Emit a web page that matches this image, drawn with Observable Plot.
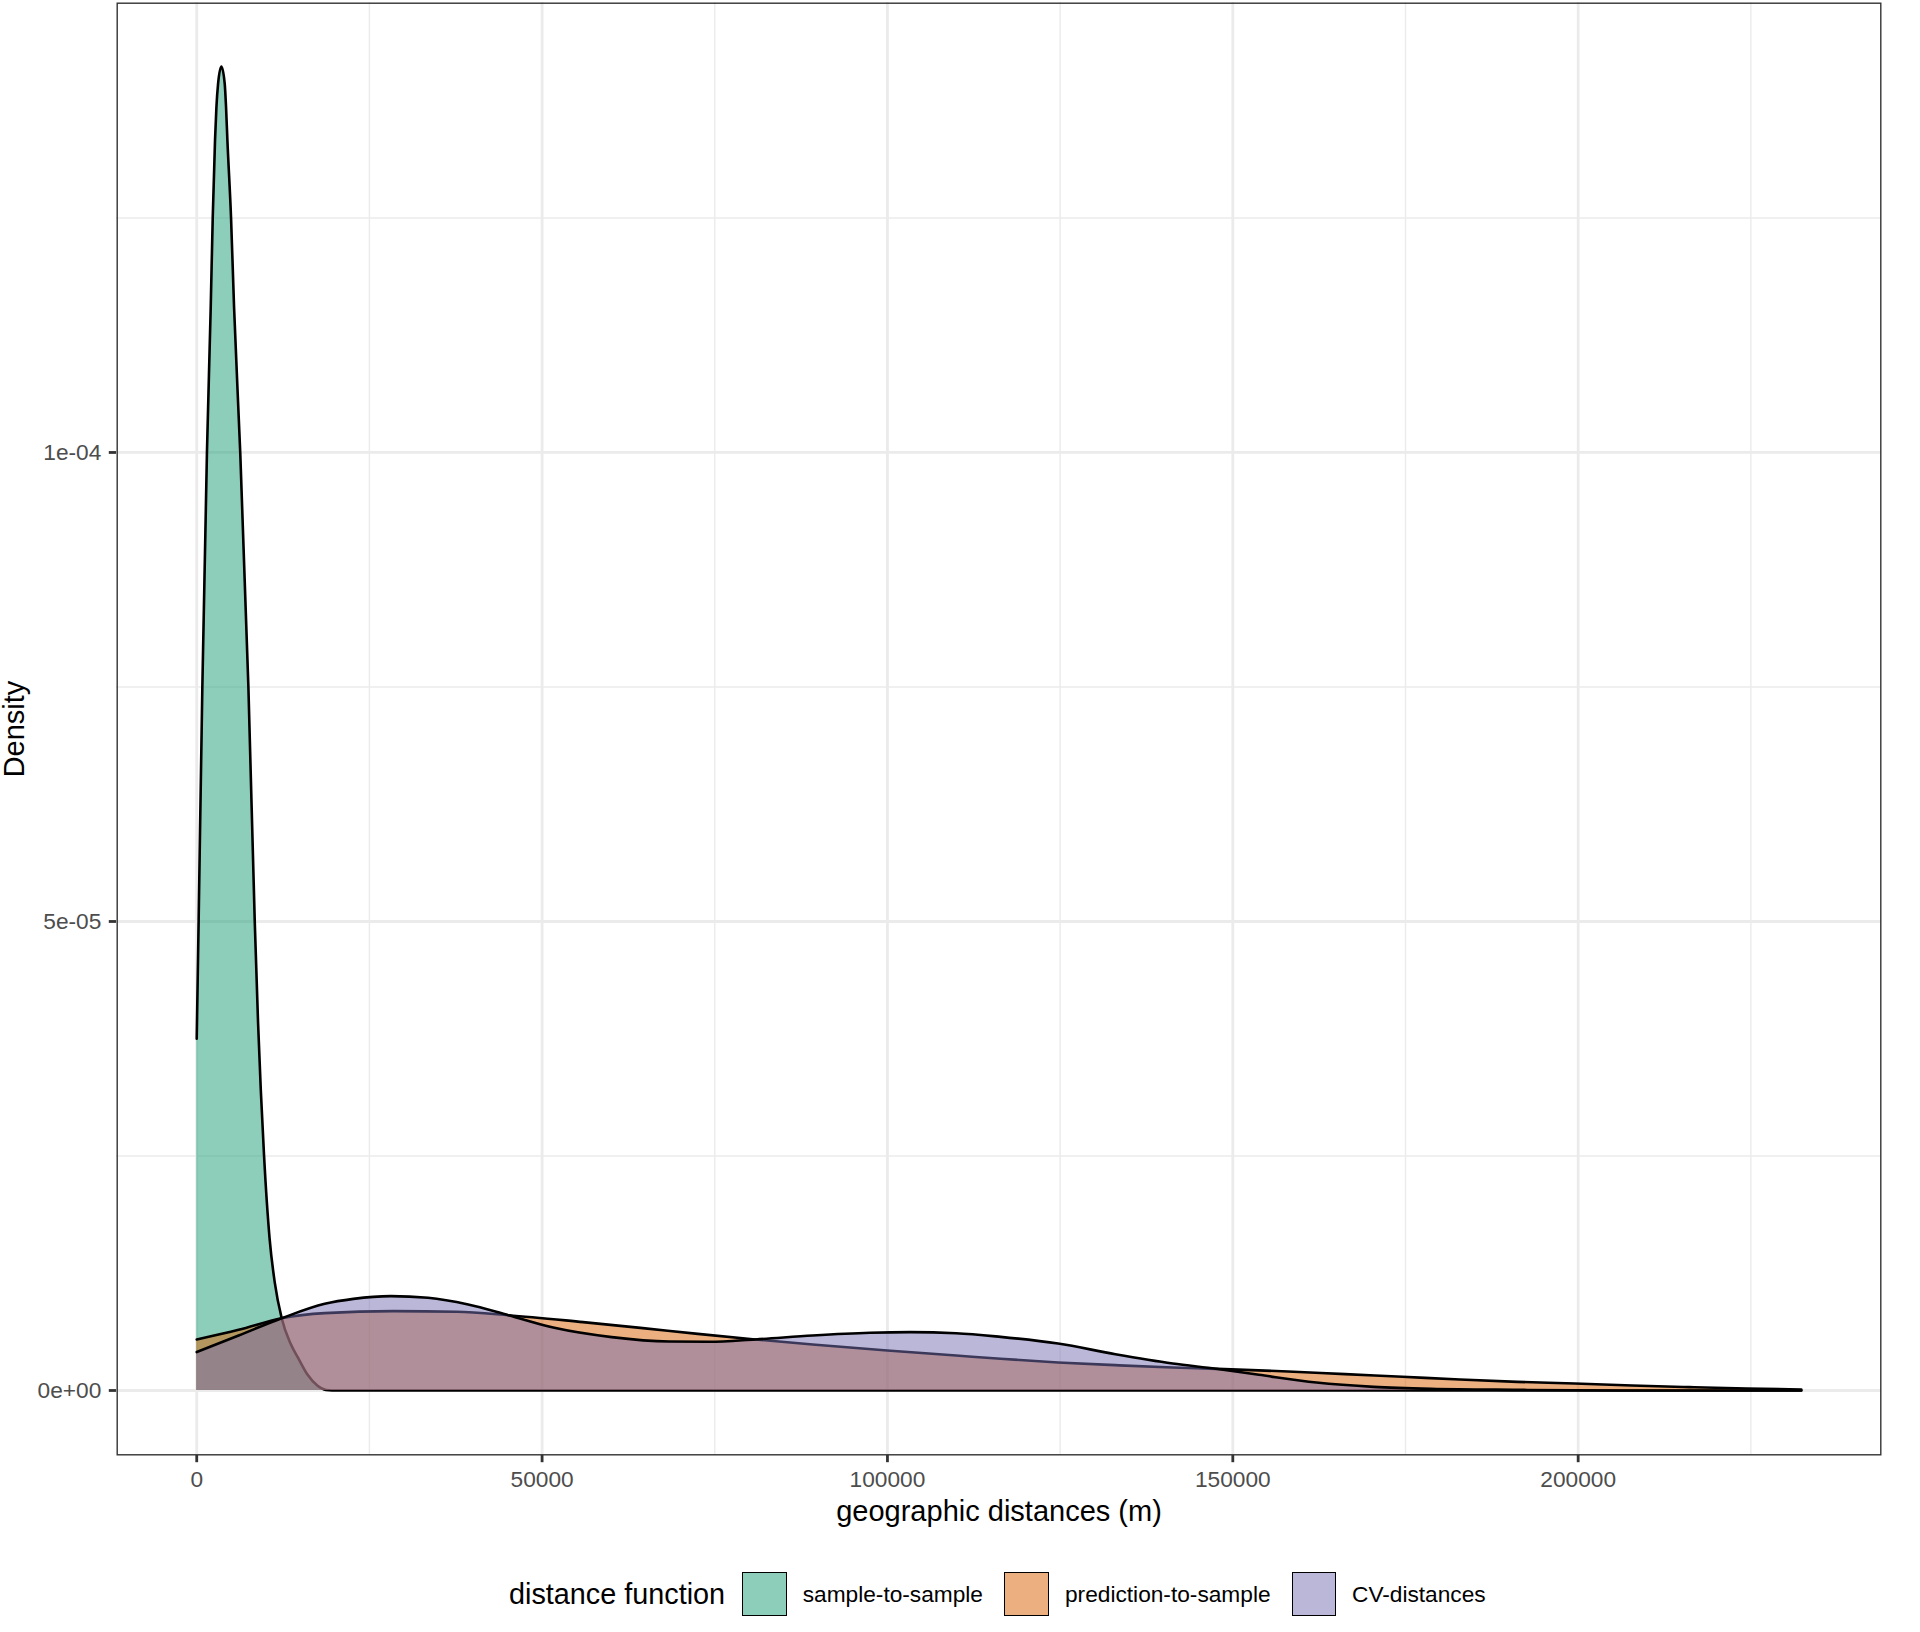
<!DOCTYPE html>
<html><head><meta charset="utf-8">
<script src="https://cdn.jsdelivr.net/npm/d3@7"></script>
<script src="https://cdn.jsdelivr.net/npm/@observablehq/plot@0.6"></script>
<style>
body{margin:0;background:#fff;font-family:"Liberation Sans",Arial,sans-serif;}
#legend{position:relative;width:1920px;height:72px;}
#legend .sw{position:absolute;top:12px;width:44.7px;height:44px;box-sizing:border-box;border:1.4px solid #000;}
#legend .lab{position:absolute;font-size:22.7px;line-height:22.7px;top:22.5px;white-space:nowrap;color:#000;}
#legend .ttl{position:absolute;font-size:28.8px;line-height:28.8px;top:19.6px;white-space:nowrap;color:#000;}
</style></head><body>
<div id="chart"></div>
<div id="legend"></div>
<script>
// ---- data ----
const seriesNames = ["sample-to-sample", "prediction-to-sample", "CV-distances"];
const seriesColors = ["#1b9e77", "#d95f02", "#7570b3"];
const legendTitle = "distance function";
const xTitle = "geographic distances (m)";
const yTitle = "Density";

const sampleX = [0, 275, 813, 1480, 2027, 2316, 2650, 2850, 3090, 3570, 4053, 4246, 4440, 4970, 5404, 6300, 7480, 8400, 8880, 9750, 10550, 11300, 12300, 13580, 14700, 16030, 17500, 18700, 19600, 232300];
const sampleY = [3.75e-5, 5.0e-5, 7.5e-5, 1.0e-4, 1.155e-4, 1.25e-4, 1.333e-4, 1.368e-4, 1.393e-4, 1.4115e-4, 1.393e-4, 1.368e-4, 1.333e-4, 1.25e-4, 1.155e-4, 1.0e-4, 7.5e-5, 5.0e-5, 3.92e-5, 2.5e-5, 1.62e-5, 1.15e-5, 7.7e-6, 5.0e-6, 3.45e-6, 1.7e-6, 5e-7, 5e-8, 0, 0];

const predX = [0, 6066, 12300, 18530, 28500, 37640, 45120, 55930, 64240, 72550, 80860, 89170, 99970, 109940, 116387, 124700, 133000, 141300, 147550, 158000, 166250, 174560, 182870, 191200, 199500, 207800, 216100, 224400, 232300];
const predY = [5.44e-6, 6.47e-6, 7.71e-6, 8.25e-6, 8.46e-6, 8.39e-6, 8.03e-6, 7.29e-6, 6.68e-6, 6.04e-6, 5.44e-6, 4.9e-6, 4.26e-6, 3.73e-6, 3.38e-6, 2.99e-6, 2.70e-6, 2.45e-6, 2.31e-6, 2.03e-6, 1.74e-6, 1.46e-6, 1.17e-6, 9.2e-7, 7.5e-7, 5.3e-7, 3.6e-7, 2.1e-7, 1.1e-7];

const cvX = [0, 6066, 12300, 18530, 22690, 28090, 33490, 39300, 45120, 51770, 60080, 68390, 74210, 80860, 89170, 97480, 103300, 109940, 116387, 124700, 133000, 141300, 147550, 153780, 162100, 170400, 178700, 191200, 199500, 215000, 232300];
const cvY = [4.1e-6, 5.86e-6, 7.7e-6, 9.24e-6, 9.77e-6, 1.006e-5, 9.88e-6, 9.17e-6, 8.03e-6, 6.68e-6, 5.69e-6, 5.22e-6, 5.19e-6, 5.44e-6, 5.86e-6, 6.15e-6, 6.22e-6, 6.11e-6, 5.72e-6, 5.01e-6, 3.87e-6, 2.88e-6, 2.31e-6, 1.67e-6, 8.5e-7, 3.9e-7, 1.8e-7, 7e-8, 2e-8, 0, 0];

const xTicks = [0, 50000, 100000, 150000, 200000];
const xTickLabels = ["0", "50000", "100000", "150000", "200000"];
const xMinor = [25000, 75000, 125000, 175000, 225000];
const yTicks = [0, 5e-5, 1e-4];
const yTickLabels = ["0e+00", "5e-05", "1e-04"];
const yMinor = [2.5e-5, 7.5e-5, 1.25e-4];

// ---- build ----
const seriesXs = [sampleX, predX, cvX];
const seriesYs = [sampleY, predY, cvY];
const series = seriesNames.map((name, i) => ({
  name,
  data: seriesXs[i].map((x, j) => ({series: name, x, y: seriesYs[i][j]}))
}));

const grid = "#ebebeb";
const seriesMarks = series.flatMap(s => [
  Plot.areaY(s.data, {x: "x", y1: 0, y2: "y", fill: "series", fillOpacity: 0.5, curve: "monotone-x"}),
  Plot.lineY(s.data, {x: "x", y: "y", stroke: "black", strokeWidth: 2.6, curve: "monotone-x"})
]);

const chart = Plot.plot({
  width: 1920,
  height: 1560,
  marginLeft: 116,
  marginRight: 39,
  marginTop: 2,
  marginBottom: 105,
  style: {fontFamily: "'Liberation Sans', Arial, sans-serif", fontSize: "22.7px", background: "white", overflow: "visible"},
  x: {domain: [-11615, 243915]},
  y: {domain: [-6.93e-6, 1.4797e-4]},
  color: {domain: seriesNames, range: seriesColors},
  marks: [
    Plot.gridX(xMinor, {stroke: grid, strokeOpacity: 1, strokeWidth: 1.4}),
    Plot.gridY(yMinor, {stroke: grid, strokeOpacity: 1, strokeWidth: 1.4}),
    Plot.gridX(xTicks, {stroke: grid, strokeOpacity: 1, strokeWidth: 2.8}),
    Plot.gridY(yTicks, {stroke: grid, strokeOpacity: 1, strokeWidth: 2.8}),
    ...seriesMarks,
    Plot.frame({stroke: "#333333", strokeWidth: 1.4, inset: 0.7}),
    Plot.axisX(xTicks, {tickSize: 7.2, tickPadding: 8.6, fontSize: 22.7, stroke: "#333333", strokeWidth: 2.8, fill: "#4d4d4d",
      tickFormat: d => xTickLabels[xTicks.indexOf(d)], label: null}),
    Plot.axisY(yTicks, {tickSize: 7.2, tickPadding: 8, fontSize: 22.7, stroke: "#333333", strokeWidth: 2.8, fill: "#4d4d4d",
      tickFormat: d => yTickLabels[yTicks.indexOf(d)], label: null}),
    Plot.text([xTitle], {text: d => d, frameAnchor: "bottom", textAnchor: "middle", lineAnchor: "bottom", dy: 65, fontSize: 29, fill: "black"}),
    Plot.text([yTitle], {text: d => d, frameAnchor: "left", textAnchor: "middle", lineAnchor: "bottom", rotate: -90, dx: -93, dy: 0, fontSize: 29, fill: "black"})
  ]
});
document.getElementById("chart").appendChild(chart);

// ---- legend (HTML, below the SVG) ----
const legend = document.getElementById("legend");
const ttl = document.createElement("span");
ttl.className = "ttl";
ttl.style.left = "509px";
ttl.textContent = legendTitle;
legend.appendChild(ttl);
const swLeft = [742, 1004.3, 1291.7];
const labLeft = [802.7, 1065, 1352];
seriesNames.forEach((name, i) => {
  const sw = document.createElement("div");
  sw.className = "sw";
  sw.style.left = swLeft[i] + "px";
  const c = d3.color(seriesColors[i]); c.opacity = 0.5;
  sw.style.background = c.formatRgb();
  legend.appendChild(sw);
  const lab = document.createElement("span");
  lab.className = "lab";
  lab.style.left = labLeft[i] + "px";
  lab.textContent = name;
  legend.appendChild(lab);
});
</script></body></html>
